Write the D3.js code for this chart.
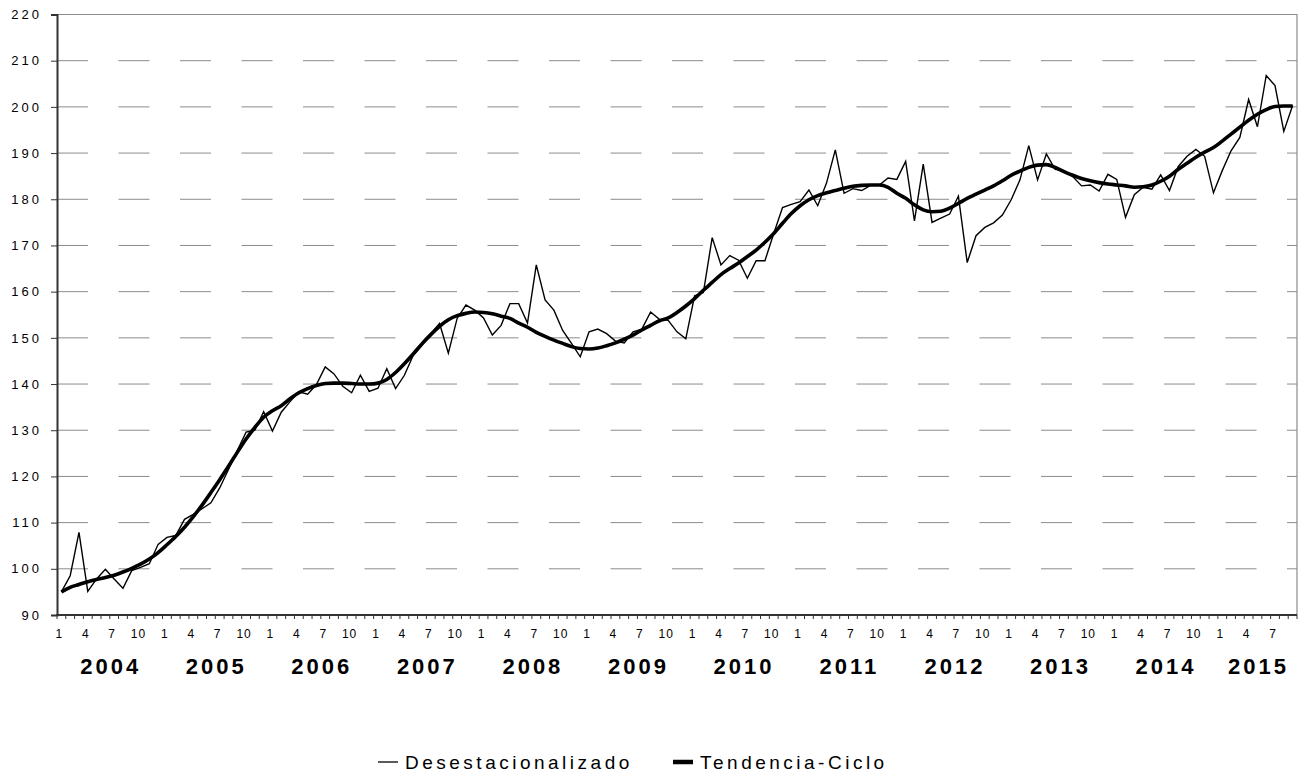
<!DOCTYPE html>
<meta charset="utf-8">
<title>Desestacionalizado y Tendencia-Ciclo</title>
<script src="https://d3js.org/d3.v7.min.js"></script>
<style>
  body { margin: 0; background: #fff; }
  text { font-family: "Liberation Sans", Arial, sans-serif; fill: #000; }
</style>
<body>
<svg id="chart" width="1300" height="776"></svg>
<script>

// monthly series, Jan 2004 .. Sep 2015
var years = [2004, 2005, 2006, 2007, 2008, 2009, 2010, 2011, 2012, 2013, 2014, 2015];
var monthLabels = [1, 4, 7, 10];
var yTicks = [90, 100, 110, 120, 130, 140, 150, 160, 170, 180, 190, 200, 210, 220];

var desest = [
  95, 98.5, 107.9, 95.1, 97.8, 99.9, 97.8, 95.8, 99.6, 100.3, 101.1, 105.3,
  106.8, 107.2, 110.7, 111.8, 113, 114.3, 117.5, 121.5, 125.6, 129.6, 130, 134,
  129.8, 133.9, 136.2, 138.3, 137.8, 139.9, 143.7, 142.2, 139.5, 138.1, 141.9, 138.4,
  139.1, 143.3, 139, 141.9, 146.2, 148.4, 150.9, 153.1, 146.7, 154.2, 157.1, 156,
  154.3, 150.6, 152.7, 157.4, 157.4, 153.2, 165.8, 158.2, 156, 151.6, 148.8, 145.9,
  151.3, 151.9, 150.9, 149.3, 148.9, 151.3, 151.9, 155.6, 154, 153.8, 151.3, 149.8,
  159.1, 159.8, 171.7, 165.8, 167.8, 166.8, 162.9, 166.7, 166.7, 172.6, 178.2, 178.9,
  179.5, 182, 178.6, 183.5, 190.7, 181.3, 182.3, 181.9, 183, 183.1, 184.6, 184.3,
  188.2, 175.3, 187.6, 175, 175.9, 176.8, 180.7, 166.3, 172.1, 173.9, 174.9, 176.6,
  179.9, 184.2, 191.6, 184.2, 189.8, 186.5, 186.2, 184.9, 182.9, 183.1, 181.8, 185.4,
  184.3, 176.1, 181, 182.6, 182.2, 185.3, 181.9, 187.1, 189.3, 190.8, 189.3, 181.4,
  186.2, 190.5, 193.4, 201.6, 195.7, 206.8, 204.6, 194.7, 200.3
];

var tendencia = [
  95, 96, 96.6, 97.2, 97.7, 98.1, 98.6, 99.3, 100.1, 101, 102.1, 103.5,
  105.2, 107, 109, 111.3, 113.8, 116.5, 119.3, 122.2, 125.2, 128.1, 130.6, 132.8,
  134.2, 135.3, 136.8, 138.1, 139, 139.7, 140.1, 140.2, 140.2, 140.1, 140, 140,
  140.2, 141, 142.5, 144.4, 146.5, 148.7, 150.7, 152.5, 153.9, 154.8, 155.3, 155.6,
  155.5, 155.2, 154.7, 154.2, 153.2, 152.3, 151.2, 150.3, 149.5, 148.8, 148.1, 147.7,
  147.6, 147.8, 148.3, 148.9, 149.7, 150.6, 151.7, 152.7, 153.7, 154.3, 155.5, 156.9,
  158.5, 160.3, 162, 163.7, 165, 166.2, 167.6, 169, 170.7, 172.6, 174.8, 176.9,
  178.6, 179.9, 180.8, 181.4, 181.9, 182.4, 182.8, 183, 183.1, 183.1, 182.6, 181.3,
  180.2, 178.8, 177.7, 177.3, 177.4, 178.1, 179.1, 180.2, 181.1, 182, 182.9, 184,
  185.2, 186.1, 186.9, 187.4, 187.5, 186.9, 186, 185.2, 184.5, 184, 183.6, 183.3,
  183.1, 182.9, 182.6, 182.7, 183.1, 183.9, 185, 186.5, 187.8, 189.1, 190.2, 191.2,
  192.6, 194.1, 195.6, 197.1, 198.4, 199.4, 200.1, 200.2, 200.2
];

var svg = d3.select("#chart");
var plotLeft = 57, plotRight = 1297, plotTop = 14.5, plotBottom = 615;

var keys = desest.map(function(d, i) {
  return years[Math.floor(i / 12)] + "-" + (i % 12 + 1);
});

var x = d3.scaleBand().domain(keys).range([plotLeft, plotRight]).padding(0);
var y = d3.scaleLinear().domain([90, 220]).range([plotBottom, plotTop]);
var cx = function(i) { return x(keys[i]) + x.bandwidth() / 2; };

// dashed grid
svg.append("g").selectAll("line")
  .data(yTicks.filter(function(t) { return t > 90 && t < 220; }))
  .join("line")
    .attr("x1", plotLeft).attr("x2", plotRight)
    .attr("y1", function(d) { return y(d); })
    .attr("y2", function(d) { return y(d); })
    .attr("stroke", "#8c8c8c")
    .attr("stroke-width", 1)
    .attr("stroke-dasharray", "31,30.5");

// frame top / right
svg.append("path")
    .attr("d", "M" + plotLeft + "," + y(220) + "H" + plotRight + "V" + plotBottom)
    .attr("fill", "none")
    .attr("stroke", "#8c8c8c")
    .attr("stroke-width", 1.2);

// y axis
var yAxis = svg.append("g")
    .attr("transform", "translate(" + plotLeft + ",0)")
    .call(d3.axisLeft(y).tickValues(yTicks).tickSize(6).tickFormat(d3.format("d")));
yAxis.select(".domain").attr("stroke", "#333").attr("stroke-width", 2);
yAxis.selectAll(".tick line").attr("stroke", "#333");
yAxis.selectAll(".tick text")
    .style("font-size", "13px")
    .style("letter-spacing", "3px")
    .attr("x", -15)
    .attr("fill", "#000");

// x axis line + minor ticks at month boundaries
svg.append("line")
    .attr("x1", plotLeft - 1).attr("x2", plotRight)
    .attr("y1", plotBottom).attr("y2", plotBottom)
    .attr("stroke", "#333").attr("stroke-width", 2);

var bounds = keys.map(function(k) { return x(k); }).concat([plotRight]);
svg.append("g").selectAll("line")
  .data(bounds)
  .join("line")
    .attr("x1", function(d) { return d; }).attr("x2", function(d) { return d; })
    .attr("y1", plotBottom).attr("y2", plotBottom + 4)
    .attr("stroke", "#333").attr("stroke-width", 1);

// month labels
svg.append("g").selectAll("text")
  .data(keys.map(function(k, i) { return i; }).filter(function(i) {
    return monthLabels.indexOf(i % 12 + 1) >= 0;
  }))
  .join("text")
    .attr("x", function(i) { return cx(i) - 2; })
    .attr("y", 638)
    .attr("text-anchor", "middle")
    .style("font-size", "12px")
    .style("letter-spacing", "1px")
    .text(function(i) { return i % 12 + 1; });

// year labels
svg.append("g").selectAll("text")
  .data(years)
  .join("text")
    .attr("x", function(yr, j) {
      var first = j * 12, last = Math.min(first + 11, keys.length - 1);
      return (cx(first) + cx(last)) / 2 + 1;
    })
    .attr("y", 674)
    .attr("text-anchor", "middle")
    .style("font-size", "22px")
    .style("font-weight", "bold")
    .style("letter-spacing", "3px")
    .text(function(d) { return d; });

// series
var line = d3.line()
    .x(function(d, i) { return cx(i); })
    .y(function(d) { return y(d); });

svg.append("path")
    .datum(desest)
    .attr("d", line)
    .attr("fill", "none")
    .attr("stroke", "#000")
    .attr("stroke-width", 1.4);

svg.append("path")
    .datum(tendencia)
    .attr("d", line.curve(d3.curveMonotoneX))
    .attr("fill", "none")
    .attr("stroke", "#000")
    .attr("stroke-width", 3.6);

// legend
var legend = svg.append("g");
legend.append("line")
    .attr("x1", 378).attr("x2", 398).attr("y1", 762).attr("y2", 762)
    .attr("stroke", "#000").attr("stroke-width", 1.3);
legend.append("text")
    .attr("x", 405).attr("y", 769)
    .style("font-size", "19px")
    .style("letter-spacing", "3.5px")
    .text("Desestacionalizado");
legend.append("line")
    .attr("x1", 673).attr("x2", 693).attr("y1", 762).attr("y2", 762)
    .attr("stroke", "#000").attr("stroke-width", 4.5);
legend.append("text")
    .attr("x", 700).attr("y", 769)
    .style("font-size", "19px")
    .style("letter-spacing", "3.5px")
    .text("Tendencia-Ciclo");

</script>
